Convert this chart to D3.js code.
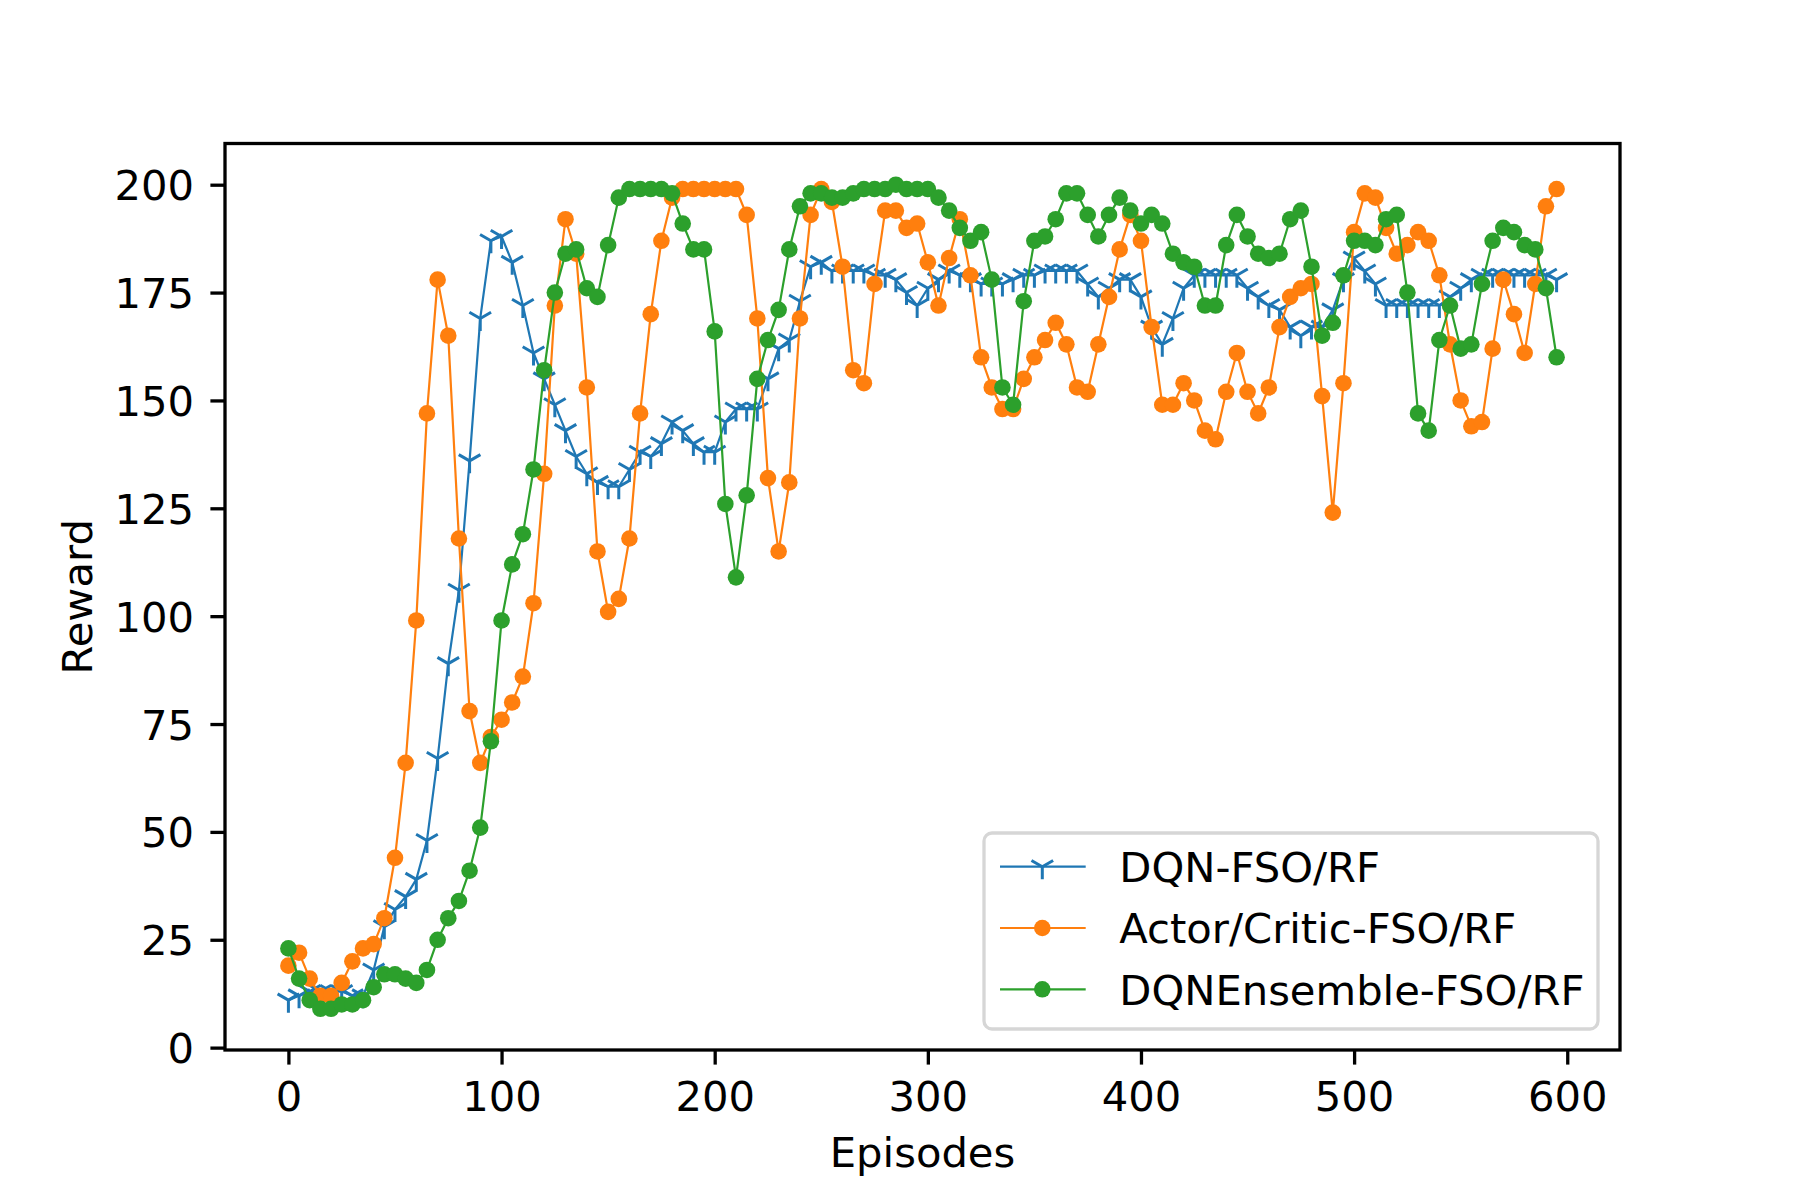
<!DOCTYPE html>
<meta charset="utf-8">
<html>
  <head>
    <style>
     body { margin: 0; background: #fff; }
     text { font-family: "DejaVu Sans", sans-serif; fill: #000; }
     .tick text { font-size: 41.7px; }
     .tick line { stroke: #000; stroke-width: 3.3px; }
     .series-line { fill: none; stroke-width: 2.2px; stroke-linejoin: round; }
    </style>
    <script src="https://d3js.org/d3.v7.min.js"></script>
  </head>
  <body>
    <div id="chart"></div>
    <script type="text/javascript">
     // episodes 0..595, one point every 5 episodes
     var episodes = d3.range(0, 600, 5);

     var dqn = [
       11, 12, 13, 13, 13, 13, 12, 12, 18, 28,
       32, 35, 39, 48, 67, 89, 106, 136, 169, 187,
       188, 182, 172, 161, 155, 149, 143, 137, 133, 131,
       130, 130, 134, 138, 137, 140, 145, 143, 140, 138,
       138, 145, 148, 148, 148, 155, 162, 164, 173, 181,
       182, 180, 180, 180, 180, 179, 179, 178, 175, 172,
       176, 178, 180, 179, 178, 177, 177, 177, 178, 179,
       179, 180, 180, 180, 180, 177, 174, 176, 178, 178,
       174, 167, 163, 169, 176, 179, 179, 179, 179, 179,
       176, 174, 172, 171, 167, 165, 167, 167, 171, 178,
       183, 180, 177, 172, 172, 172, 172, 172, 172, 174,
       176, 178, 179, 179, 179, 179, 179, 179, 179, 178
     ];

     var actorCritic = [
       19, 22, 16, 12, 12, 15, 20, 23, 24, 30,
       44, 66, 99, 147, 178, 165, 118, 78, 66, 72,
       76, 80, 86, 103, 133, 172, 192, 184, 153, 115,
       101, 104, 118, 147, 170, 187, 197, 199, 199, 199,
       199, 199, 199, 193, 169, 132, 115, 131, 169, 193,
       199, 196, 181, 157, 154, 177, 194, 194, 190, 191,
       182, 172, 183, 192, 179, 160, 153, 148, 148, 155,
       160, 164, 168, 163, 153, 152, 163, 174, 185, 193,
       187, 167, 149, 149, 154, 150, 143, 141, 152, 161,
       152, 147, 153, 167, 174, 176, 177, 151, 124, 154,
       189, 198, 197, 190, 184, 186, 189, 187, 179, 163,
       150, 144, 145, 162, 178, 170, 161, 177, 195, 199
     ];

     var dqnEnsemble = [
       23, 16, 11, 9, 9, 10, 10, 11, 14, 17,
       17, 16, 15, 18, 25, 30, 34, 41, 51, 71,
       99, 112, 119, 134, 157, 175, 184, 185, 176, 174,
       186, 197, 199, 199, 199, 199, 198, 191, 185, 185,
       166, 126, 109, 128, 155, 164, 171, 185, 195, 198,
       198, 197, 197, 198, 199, 199, 199, 200, 199, 199,
       199, 197, 194, 190, 187, 189, 178, 153, 149, 173,
       187, 188, 192, 198, 198, 193, 188, 193, 197, 194,
       191, 193, 191, 184, 182, 181, 172, 172, 186, 193,
       188, 184, 183, 184, 192, 194, 181, 165, 168, 179,
       187, 187, 186, 192, 193, 175, 147, 143, 164, 172,
       162, 163, 177, 187, 190, 189, 186, 185, 176, 160
     ];

     var seriesNames = ["DQN-FSO/RF", "Actor/Critic-FSO/RF", "DQNEnsemble-FSO/RF"];
     var seriesColors = ["#1f77b4", "#ff7f0e", "#2ca02c"];
     var xTicks = [0, 100, 200, 300, 400, 500, 600];
     var yTicks = [0, 25, 50, 75, 100, 125, 150, 175, 200];

     var W = 1800, H = 1200;
     var plotLeft = 225, plotRight = 1620, plotTop = 143.5, plotBottom = 1050;

     var series = [dqn, actorCritic, dqnEnsemble].map(function (vals, i) {
       return {
         name: seriesNames[i],
         color: seriesColors[i],
         marker: i === 0 ? "tri" : "dot",
         points: vals.map(function (v, j) { return { x: episodes[j], y: v }; })
       };
     });

     // matplotlib style 5% margins around the data
     var xMin = d3.min(episodes), xMax = d3.max(episodes);
     var allY = dqn.concat(actorCritic, dqnEnsemble);
     var yMin = d3.min(allY), yMax = d3.max(allY);
     var xPad = (xMax - xMin) * 0.05, yPad = (yMax - yMin) * 0.05;

     var x = d3.scaleLinear().domain([xMin - xPad, xMax + xPad]).range([plotLeft, plotRight]);
     var y = d3.scaleLinear().domain([yMin - yPad, yMax + yPad]).range([plotBottom, plotTop]);

     var svg = d3.select("#chart").append("svg")
                 .attr("width", W)
                 .attr("height", H);

     svg.append("rect").attr("width", W).attr("height", H).attr("fill", "#fff");

     var triPath = "M0,0L0,12.5M0,0L-10.83,-6.25M0,0L10.83,-6.25";

     function drawMarker(sel, s) {
       if (s.marker === "tri") {
         sel.append("path")
            .attr("d", triPath)
            .attr("fill", "none")
            .attr("stroke", s.color)
            .attr("stroke-width", 3);
       } else {
         sel.append("circle")
            .attr("r", 8.3)
            .attr("fill", s.color);
       }
     }

     var line = d3.line()
                  .x(function (d) { return x(d.x); })
                  .y(function (d) { return y(d.y); });

     series.forEach(function (s) {
       var g = svg.append("g");
       g.append("path")
        .datum(s.points)
        .attr("class", "series-line")
        .attr("stroke", s.color)
        .attr("d", line);
       g.selectAll(".pt")
        .data(s.points)
        .enter().append("g")
        .attr("class", "pt")
        .attr("transform", function (d) { return "translate(" + x(d.x) + "," + y(d.y) + ")"; })
        .each(function () { drawMarker(d3.select(this), s); });
     });

     // axes
     var xAxis = svg.append("g")
                    .attr("transform", "translate(0," + plotBottom + ")")
                    .call(d3.axisBottom(x).tickValues(xTicks).tickSize(14.6).tickFormat(d3.format("d")));
     xAxis.select(".domain").remove();
     xAxis.selectAll(".tick text").attr("y", 61).attr("dy", null);

     var yAxis = svg.append("g")
                    .attr("transform", "translate(" + plotLeft + ",0)")
                    .call(d3.axisLeft(y).tickValues(yTicks).tickSize(14.6).tickFormat(d3.format("d")));
     yAxis.select(".domain").remove();
     yAxis.selectAll(".tick text").attr("x", -31).attr("dy", 15);

     // frame
     svg.append("rect")
        .attr("x", plotLeft).attr("y", plotTop)
        .attr("width", plotRight - plotLeft).attr("height", plotBottom - plotTop)
        .attr("fill", "none")
        .attr("stroke", "#000")
        .attr("stroke-width", 3.3);

     svg.append("text")
        .attr("x", (plotLeft + plotRight) / 2)
        .attr("y", 1167)
        .attr("text-anchor", "middle")
        .style("font-size", "41.7px")
        .text("Episodes");

     svg.append("text")
        .attr("transform", "translate(91.5," + (plotTop + plotBottom) / 2 + ") rotate(-90)")
        .attr("text-anchor", "middle")
        .style("font-size", "41.7px")
        .text("Reward");

     // legend
     var legend = svg.append("g");
     legend.append("rect")
           .attr("x", 984).attr("y", 833)
           .attr("width", 614).attr("height", 196)
           .attr("rx", 8).attr("ry", 8)
           .attr("fill", "#fff")
           .attr("fill-opacity", 0.8)
           .attr("stroke", "#d6d6d6")
           .attr("stroke-width", 3.3);

     var rows = legend.selectAll(".legend-row")
                      .data(series)
                      .enter().append("g")
                      .attr("class", "legend-row")
                      .attr("transform", function (d, i) { return "translate(0," + (866.7 + i * 61.3) + ")"; });

     rows.append("line")
         .attr("x1", 1000).attr("x2", 1085.7)
         .attr("stroke", function (d) { return d.color; })
         .attr("stroke-width", 2.2);

     rows.append("g")
         .attr("transform", "translate(1042.3,0)")
         .each(function (d) { drawMarker(d3.select(this), d); });

     rows.append("text")
         .attr("x", 1119.3)
         .attr("y", 15.2)
         .style("font-size", "41.7px")
         .text(function (d) { return d.name; });
    </script>
  </body>
</html>
